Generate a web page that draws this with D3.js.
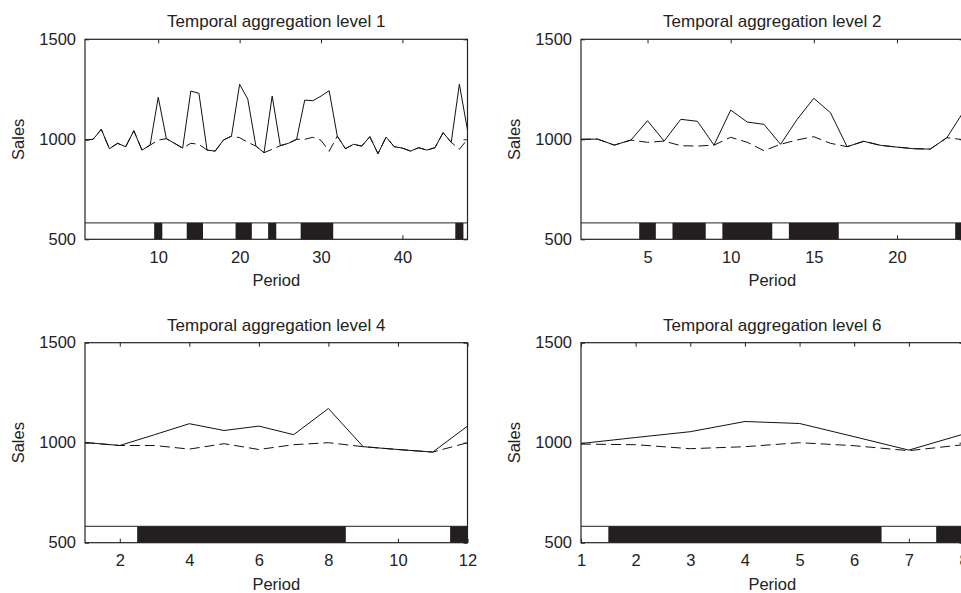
<!DOCTYPE html>
<html>
<head>
<meta charset="utf-8">
<script src="https://cdn.jsdelivr.net/npm/d3@7"></script>
<style>
  html, body { margin: 0; padding: 0; background: #fff; }
  svg { display: block; }
  text { font-family: "Liberation Sans", Arial, Helvetica, sans-serif; fill: #222; }
</style>
</head>
<body>
<svg id="chart" width="961" height="593"></svg>
<script>
// ---- data ----
const titles = ["Temporal aggregation level 1", "Temporal aggregation level 2",
                "Temporal aggregation level 4", "Temporal aggregation level 6"];
const yTicks = [500, 1000, 1500];

const level1Sales = [996,1000,1050,953,980,963,1043,946,971,1210,1003,980,956,1241,1230,946,941,996,1016,1275,1201,966,933,1216,968,980,1000,1196,1193,1216,1243,1016,953,975,966,1013,928,1011,963,956,941,958,946,958,1033,985,1275,1046];
const level1Base  = [996,1000,1050,953,980,963,1043,946,971,996,1003,980,956,980,975,946,941,996,1016,1008,985,966,933,950,968,980,1000,1000,1010,995,940,1016,953,975,966,1013,928,1011,963,956,941,958,946,958,1033,985,950,1000];
const level1Promo = [10,14,15,20,21,24,28,29,30,31,47];
const level1Ticks = [10,20,30,40];

const level2Sales = [1000,1001,971,996,1093,991,1100,1090,971,1146,1086,1075,975,1100,1205,1133,963,990,970,961,953,951,1008,1138];
const level2Base  = [1000,1001,971,996,985,991,968,966,971,1010,985,943,975,997,1013,980,963,990,970,961,953,951,1008,998];
const level2Promo = [5,7,8,10,11,12,14,15,16,24];
const level2Ticks = [5,10,15,20];

const level4Sales = [1001,986,1040,1095,1061,1083,1040,1171,980,966,953,1083];
const level4Base  = [1001,986,986,968,995,966,990,1000,980,966,953,1000];
const level4Promo = [3,4,5,6,7,8,12];
const level4Ticks = [2,4,6,8,10,12];

const level6Sales = [996,1026,1055,1106,1096,1030,963,1043];
const level6Base  = [993,990,970,980,1000,985,960,990];
const level6Promo = [2,3,4,5,6,8];
const level6Ticks = [1,2,3,4,5,6,7,8];

const stripTop = 582;

const panels = [
  {title: titles[0], sales: level1Sales, base: level1Base, promo: level1Promo, ticks: level1Ticks},
  {title: titles[1], sales: level2Sales, base: level2Base, promo: level2Promo, ticks: level2Ticks},
  {title: titles[2], sales: level4Sales, base: level4Base, promo: level4Promo, ticks: level4Ticks},
  {title: titles[3], sales: level6Sales, base: level6Base, promo: level6Promo, ticks: level6Ticks}
];

// merge consecutive promo periods into runs [start, end]
function runs(list) {
  const out = [];
  list.forEach(v => {
    const last = out[out.length - 1];
    if (last && v === last[1] + 1) last[1] = v; else out.push([v, v]);
  });
  return out;
}

// ---- layout ----
const svg = d3.select("#chart");
const W = 382.5, H = 200;
const lefts = [85, 581];
const tops = [39.3, 342.7];
const ink = "#222";

panels.forEach((p, i) => {
  const x0 = lefts[i % 2], y0 = tops[Math.floor(i / 2)];
  const n = p.sales.length;
  const periods = d3.range(1, n + 1);
  const x = d3.scaleLinear().domain([1, n]).range([0, W]);
  const y = d3.scaleLinear().domain([500, 1500]).range([H, 0]);

  const g = svg.append("g").attr("transform", `translate(${x0},${y0})`);

  // strip
  g.append("rect").attr("x", 0).attr("y", y(stripTop)).attr("width", W)
    .attr("height", y(500) - y(stripTop)).attr("fill", "#fff");
  g.selectAll("rect.promo").data(runs(p.promo)).enter().append("rect")
    .attr("class", "promo")
    .attr("x", d => x(Math.max(1, d[0] - 0.5)))
    .attr("width", d => x(Math.min(n, d[1] + 0.5)) - x(Math.max(1, d[0] - 0.5)))
    .attr("y", y(stripTop)).attr("height", y(500) - y(stripTop))
    .attr("fill", "#231f20");
  g.append("line").attr("x1", 0).attr("x2", W).attr("y1", y(stripTop)).attr("y2", y(stripTop))
    .attr("stroke", ink).attr("stroke-width", 1);

  const line = d3.line().x((d, k) => x(periods[k])).y(d => y(d));
  g.append("path").datum(p.base).attr("d", line).attr("fill", "none")
    .attr("stroke", "#111").attr("stroke-width", 1).attr("stroke-dasharray", "10,5");
  g.append("path").datum(p.sales).attr("d", line).attr("fill", "none")
    .attr("stroke", "#111").attr("stroke-width", 1);

  // box
  g.append("rect").attr("x", 0).attr("y", 0).attr("width", W).attr("height", H)
    .attr("fill", "none").attr("stroke", ink).attr("stroke-width", 1.2);

  // axes
  const xb = g.append("g").attr("transform", `translate(0,${H})`)
    .call(d3.axisBottom(x).tickValues(p.ticks).tickSize(-4).tickPadding(12).tickFormat(d3.format("d")));
  const xt = g.append("g")
    .call(d3.axisTop(x).tickValues(p.ticks).tickSize(-4).tickFormat(""));
  const yl = g.append("g")
    .call(d3.axisLeft(y).tickValues(yTicks).tickSize(-4).tickPadding(9).tickFormat(d3.format("d")));
  const yr = g.append("g").attr("transform", `translate(${W},0)`)
    .call(d3.axisRight(y).tickValues(yTicks).tickSize(-4).tickFormat(""));
  [xb, xt, yl, yr].forEach(a => {
    a.select(".domain").remove();
    a.selectAll(".tick line").attr("stroke", ink);
    a.selectAll("text").attr("fill", ink).style("font-size", "16.5px")
      .style("font-family", "'Liberation Sans', Arial, sans-serif");
  });

  g.append("text").attr("x", W / 2).attr("y", -12).attr("text-anchor", "middle")
    .style("font-size", "17px").text(p.title);
  g.append("text").attr("x", W / 2).attr("y", H + 47).attr("text-anchor", "middle")
    .style("font-size", "16.5px").text("Period");
  g.append("text").attr("transform", `translate(${-61},${H / 2}) rotate(-90)`)
    .attr("text-anchor", "middle").style("font-size", "16.5px").text("Sales");
});
</script>
</body>
</html>
